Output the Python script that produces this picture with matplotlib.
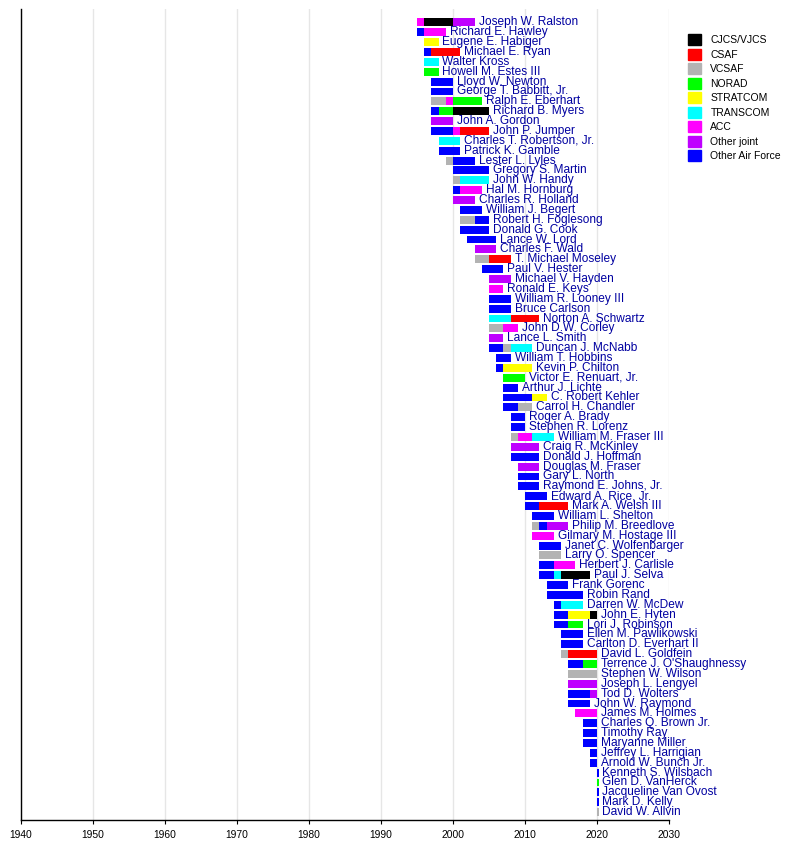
import matplotlib
matplotlib.use("Agg")
import matplotlib.pyplot as plt
import matplotlib.patches as mpatches

plt.rcParams['font.family'] = ['Liberation Sans', 'DejaVu Sans']

# row order, top to bottom
names = [
    "Joseph W. Ralston", "Richard E. Hawley", "Eugene E. Habiger", "Michael E. Ryan",
    "Walter Kross", "Howell M. Estes III", "Lloyd W. Newton", "George T. Babbitt, Jr.",
    "Ralph E. Eberhart", "Richard B. Myers", "John A. Gordon", "John P. Jumper",
    "Charles T. Robertson, Jr.", "Patrick K. Gamble", "Lester L. Lyles", "Gregory S. Martin",
    "John W. Handy", "Hal M. Hornburg", "Charles R. Holland", "William J. Begert",
    "Robert H. Foglesong", "Donald G. Cook", "Lance W. Lord", "Charles F. Wald",
    "T. Michael Moseley", "Paul V. Hester", "Michael V. Hayden", "Ronald E. Keys",
    "William R. Looney III", "Bruce Carlson", "Norton A. Schwartz", "John D.W. Corley",
    "Lance L. Smith", "Duncan J. McNabb", "William T. Hobbins", "Kevin P. Chilton",
    "Victor E. Renuart, Jr.", "Arthur J. Lichte", "C. Robert Kehler", "Carrol H. Chandler",
    "Roger A. Brady", "Stephen R. Lorenz", "William M. Fraser III", "Craig R. McKinley",
    "Donald J. Hoffman", "Douglas M. Fraser", "Gary L. North", "Raymond E. Johns, Jr.",
    "Edward A. Rice, Jr.", "Mark A. Welsh III", "William L. Shelton", "Philip M. Breedlove",
    "Gilmary M. Hostage III", "Janet C. Wolfenbarger", "Larry O. Spencer", "Herbert J. Carlisle",
    "Paul J. Selva", "Frank Gorenc", "Robin Rand", "Darren W. McDew",
    "John E. Hyten", "Lori J. Robinson", "Ellen M. Pawlikowski", "Carlton D. Everhart II",
    "David L. Goldfein", "Terrence J. O'Shaughnessy", "Stephen W. Wilson", "Joseph L. Lengyel",
    "Tod D. Wolters", "John W. Raymond", "James M. Holmes", "Charles Q. Brown Jr.",
    "Timothy Ray", "Maryanne Miller", "Jeffrey L. Harrigian", "Arnold W. Bunch Jr.",
    "Kenneth S. Wilsbach", "Glen D. VanHerck", "Jacqueline Van Ovost", "Mark D. Kelly",
    "David W. Allvin",
]

# (name, start year, end year) per position type
cjcs = [("Joseph W. Ralston", 1996, 2000), ("Richard B. Myers", 2000, 2005),
        ("Paul J. Selva", 2015, 2019), ("John E. Hyten", 2019, 2020)]

csaf = [("Michael E. Ryan", 1997, 2001), ("John P. Jumper", 2001, 2005),
        ("T. Michael Moseley", 2005, 2008), ("Norton A. Schwartz", 2008, 2012),
        ("Mark A. Welsh III", 2012, 2016), ("David L. Goldfein", 2016, 2020)]

vcsaf = [("Ralph E. Eberhart", 1997, 1999), ("Lester L. Lyles", 1999, 2000),
         ("John W. Handy", 2000, 2001), ("Robert H. Foglesong", 2001, 2003),
         ("T. Michael Moseley", 2003, 2005), ("John D.W. Corley", 2005, 2007),
         ("Duncan J. McNabb", 2007, 2008), ("William M. Fraser III", 2008, 2009),
         ("Carrol H. Chandler", 2009, 2011), ("Philip M. Breedlove", 2011, 2012),
         ("Larry O. Spencer", 2012, 2015), ("David L. Goldfein", 2015, 2016),
         ("Stephen W. Wilson", 2016, 2020), ("David W. Allvin", 2020, 2020.2)]

norad = [("Howell M. Estes III", 1996, 1998), ("Richard B. Myers", 1998, 2000),
         ("Ralph E. Eberhart", 2000, 2004), ("Victor E. Renuart, Jr.", 2007, 2010),
         ("Lori J. Robinson", 2016, 2018), ("Terrence J. O'Shaughnessy", 2018, 2020),
         ("Glen D. VanHerck", 2020, 2020.2)]

stratcom = [("Eugene E. Habiger", 1996, 1998), ("Kevin P. Chilton", 2007, 2011),
            ("C. Robert Kehler", 2011, 2013), ("John E. Hyten", 2016, 2019)]

transcom = [("Walter Kross", 1996, 1998), ("Charles T. Robertson, Jr.", 1998, 2001),
            ("John W. Handy", 2001, 2005), ("Norton A. Schwartz", 2005, 2008),
            ("Duncan J. McNabb", 2008, 2011), ("William M. Fraser III", 2011, 2014),
            ("Paul J. Selva", 2014, 2015), ("Darren W. McDew", 2015, 2018)]

acc = [("Joseph W. Ralston", 1995, 1996), ("Richard E. Hawley", 1996, 1999),
       ("Ralph E. Eberhart", 1999, 2000), ("John P. Jumper", 2000, 2001),
       ("Hal M. Hornburg", 2001, 2004), ("Ronald E. Keys", 2005, 2007),
       ("John D.W. Corley", 2007, 2009), ("William M. Fraser III", 2009, 2011),
       ("Gilmary M. Hostage III", 2011, 2014), ("Herbert J. Carlisle", 2014, 2017),
       ("James M. Holmes", 2017, 2020)]

other_joint = [("Joseph W. Ralston", 2000, 2003), ("John A. Gordon", 1997, 2000),
               ("Charles R. Holland", 2000, 2003), ("Charles F. Wald", 2003, 2006),
               ("Michael V. Hayden", 2005, 2008), ("Lance L. Smith", 2005, 2007),
               ("Craig R. McKinley", 2008, 2012), ("Douglas M. Fraser", 2009, 2012),
               ("Philip M. Breedlove", 2013, 2016), ("Joseph L. Lengyel", 2016, 2020),
               ("Tod D. Wolters", 2019, 2020)]

other_af = [("Richard E. Hawley", 1995, 1996), ("Michael E. Ryan", 1996, 1997),
            ("Lloyd W. Newton", 1997, 2000), ("George T. Babbitt, Jr.", 1997, 2000),
            ("Richard B. Myers", 1997, 1998), ("John P. Jumper", 1997, 2000),
            ("Patrick K. Gamble", 1998, 2001), ("Lester L. Lyles", 2000, 2003),
            ("Gregory S. Martin", 2000, 2005), ("Hal M. Hornburg", 2000, 2001),
            ("William J. Begert", 2001, 2004), ("Robert H. Foglesong", 2003, 2005),
            ("Donald G. Cook", 2001, 2005), ("Lance W. Lord", 2002, 2006),
            ("Paul V. Hester", 2004, 2007), ("William R. Looney III", 2005, 2008),
            ("Bruce Carlson", 2005, 2008), ("Duncan J. McNabb", 2005, 2007),
            ("William T. Hobbins", 2006, 2008), ("Kevin P. Chilton", 2006, 2007),
            ("Arthur J. Lichte", 2007, 2009), ("C. Robert Kehler", 2007, 2011),
            ("Carrol H. Chandler", 2007, 2009), ("Roger A. Brady", 2008, 2010),
            ("Stephen R. Lorenz", 2008, 2010), ("Donald J. Hoffman", 2008, 2012),
            ("Gary L. North", 2009, 2012), ("Raymond E. Johns, Jr.", 2009, 2012),
            ("Edward A. Rice, Jr.", 2010, 2013), ("Mark A. Welsh III", 2010, 2012),
            ("William L. Shelton", 2011, 2014), ("Philip M. Breedlove", 2012, 2013),
            ("Janet C. Wolfenbarger", 2012, 2015), ("Herbert J. Carlisle", 2012, 2014),
            ("Paul J. Selva", 2012, 2014), ("Frank Gorenc", 2013, 2016),
            ("Robin Rand", 2013, 2018), ("Darren W. McDew", 2014, 2015),
            ("John E. Hyten", 2014, 2016), ("Lori J. Robinson", 2014, 2016),
            ("Ellen M. Pawlikowski", 2015, 2018), ("Carlton D. Everhart II", 2015, 2018),
            ("Terrence J. O'Shaughnessy", 2016, 2018), ("Tod D. Wolters", 2016, 2019),
            ("John W. Raymond", 2016, 2019), ("Charles Q. Brown Jr.", 2018, 2020),
            ("Timothy Ray", 2018, 2020), ("Maryanne Miller", 2018, 2020),
            ("Jeffrey L. Harrigian", 2019, 2020), ("Arnold W. Bunch Jr.", 2019, 2020),
            ("Kenneth S. Wilsbach", 2020, 2020.2), ("Jacqueline Van Ovost", 2020, 2020.2),
            ("Mark D. Kelly", 2020, 2020.2)]

categories = ["CJCS/VJCS", "CSAF", "VCSAF", "NORAD", "STRATCOM", "TRANSCOM",
              "ACC", "Other joint", "Other Air Force"]
series = [cjcs, csaf, vcsaf, norad, stratcom, transcom, acc, other_joint, other_af]
colors = ["#000000", "#ff0000", "#b3b3b3", "#00ff00", "#ffff00", "#00ffff",
          "#ff00ff", "#bf00ff", "#0000ff"]

decades = list(range(1940, 2031, 10))

fig = plt.figure(figsize=(8, 8.68), dpi=100)
ax = fig.add_axes([0.026, 0.0553, 0.8104, 0.9343])

row = {n: i for i, n in enumerate(names)}
last_end = {}
for data, col in zip(series, colors):
    ys = [row[n] for n, s, e in data]
    ax.barh(ys, [e - s for n, s, e in data], left=[s for n, s, e in data],
            height=0.8, color=col, linewidth=0, zorder=2)
    for n, s, e in data:
        last_end[n] = max(last_end.get(n, 0), e)

for n in names:
    ax.annotate(n, (last_end[n], row[n]), xytext=(2.8, 0), textcoords='offset points',
                va='center', ha='left', fontsize=8.6, color='#0000a0',
                annotation_clip=False, zorder=3)

ax.set_xlim(1940, 2030)
ax.set_ylim(len(names) - 0.2, -1.35)
ax.set_xticks(decades)
ax.set_xticklabels([str(d) for d in decades], fontsize=7.4)
ax.set_yticks([])
ax.tick_params(axis='x', length=3, width=0.8, pad=4)
ax.grid(axis='x', color='#e6e6e6', linewidth=1, zorder=0)
for side in ['top', 'right']:
    ax.spines[side].set_visible(False)
ax.spines['left'].set_linewidth(1)
ax.spines['bottom'].set_linewidth(1)

handles = [mpatches.Patch(color=c, label=l) for c, l in zip(colors, categories)]
fig.legend(handles=handles, loc='upper left', bbox_to_anchor=(0.86, 0.9608),
           bbox_transform=fig.transFigure, frameon=False, fontsize=7.5,
           handlelength=1.25, handleheight=1.25, labelspacing=0.34,
           handletextpad=0.9, borderpad=0, borderaxespad=0)

fig.savefig("out.png", dpi=100)
